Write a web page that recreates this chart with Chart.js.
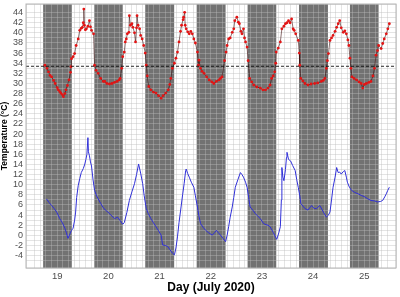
<!DOCTYPE html>
<html lang="en">
<head>
  <meta charset="UTF-8" />
  <title>Temperature July 2020</title>
  <script src="https://cdn.jsdelivr.net/npm/chart.js"></script>
  <style>
    body { margin: 0; background: #fff; }
    .wrap { width: 400px; height: 297px; }
  </style>
</head>
<body>
  <div class="wrap"><canvas id="tempChart" width="400" height="297"></canvas></div>

  <script>
    // x axis: day of July 2020 (fractional), y axis: temperature in °C
    const dayTicks = [19, 20, 21, 22, 23, 24, 25];
    const tempTicks = [-6, -4, -2, 0, 2, 4, 6, 8, 10, 12, 14, 16, 18, 20, 22, 24, 26, 28, 30, 32, 34, 36, 38, 40, 42, 44];
    const threshold = 33.4;

    // night periods (shaded)
    const nightStart = [18.725, 19.725, 20.72, 21.725, 22.72, 23.725, 24.72];
    const nightEnd   = [19.285, 20.28, 21.285, 22.29, 23.28, 24.29, 25.28];

    // red series (upper)
    const redDay = [18.76, 18.80, 18.83, 18.86, 18.89, 18.93, 18.96, 19.00, 19.02, 19.05, 19.07, 19.10, 19.12, 19.15, 19.17, 19.20, 19.23, 19.26, 19.27, 19.28, 19.31, 19.34, 19.37, 19.41, 19.44, 19.47, 19.49, 19.51, 19.52, 19.53, 19.55, 19.57, 19.60, 19.63, 19.65, 19.67, 19.71, 19.73, 19.76, 19.80, 19.85, 19.90, 19.93, 19.97,
      20.02, 20.07, 20.12, 20.17, 20.21, 20.23, 20.26, 20.28, 20.31, 20.33, 20.35, 20.37, 20.40, 20.41, 20.43, 20.46, 20.48, 20.51, 20.53, 20.55, 20.56, 20.58, 20.61, 20.63, 20.66, 20.69, 20.72, 20.74, 20.76, 20.79, 20.83, 20.88, 20.93, 20.98,
      21.03, 21.07, 21.12, 21.17, 21.20, 21.22, 21.25, 21.29, 21.32, 21.35, 21.38, 21.41, 21.43, 21.46, 21.47, 21.49, 21.50, 21.52, 21.55, 21.58, 21.61, 21.64, 21.67, 21.70, 21.74, 21.76, 21.77, 21.80, 21.83, 21.87, 21.92, 21.97,
      22.02, 22.06, 22.11, 22.16, 22.19, 22.22, 22.27, 22.30, 22.32, 22.35, 22.38, 22.42, 22.45, 22.47, 22.51, 22.54, 22.56, 22.59, 22.61, 22.64, 22.66, 22.68, 22.71, 22.73, 22.76, 22.80, 22.84, 22.90, 22.97,
      23.02, 23.07, 23.12, 23.16, 23.19, 23.22, 23.25, 23.27, 23.28, 23.32, 23.36, 23.39, 23.43, 23.46, 23.49, 23.52, 23.55, 23.58, 23.61, 23.63, 23.66, 23.71, 23.73, 23.74, 23.76, 23.80, 23.84, 23.90, 23.96,
      24.03, 24.09, 24.16, 24.20, 24.23, 24.26, 24.28, 24.30, 24.33, 24.36, 24.39, 24.43, 24.46, 24.49, 24.52, 24.55, 24.59, 24.62, 24.65, 24.68, 24.70, 24.72, 24.74, 24.76, 24.80, 24.85, 24.90, 24.94, 24.97,
      25.00, 25.04, 25.09, 25.13, 25.17, 25.20, 25.23, 25.26, 25.28, 25.33, 25.36, 25.39, 25.43, 25.46, 25.49];
    const redTemp = [33.6, 33.0, 32.3, 31.6, 31.3, 30.6, 30.0, 29.2, 28.75, 28.4, 28.1, 27.8, 27.4, 28.0, 28.75, 29.6, 30.7, 32.2, 33.3, 34.9, 35.3, 35.9, 37.5, 38.8, 40.5, 40.9, 41.1, 42.0, 44.7, 41.5, 40.6, 40.8, 41.3, 42.4, 41.2, 40.5, 39.8, 33.6, 32.6, 32.0, 31.0, 30.4, 30.4, 30.0,
      29.9, 30.0, 30.2, 30.4, 30.7, 31.0, 33.0, 35.3, 36.2, 38.2, 38.8, 39.8, 40.1, 43.4, 41.5, 41.8, 41.1, 40.0, 38.2, 41.0, 43.4, 41.5, 40.8, 39.5, 38.8, 37.5, 36.0, 33.6, 31.5, 29.4, 28.75, 28.3, 28.1, 27.6,
      27.1, 27.6, 28.1, 28.75, 29.8, 31.0, 33.0, 34.0, 35.0, 36.2, 38.2, 40.3, 41.5, 42.6, 43.1, 44.05, 41.5, 40.8, 40.2, 39.8, 40.3, 39.8, 38.8, 38.0, 36.2, 33.6, 34.6, 33.0, 32.4, 32.0, 31.3, 30.7,
      30.3, 30.0, 30.4, 30.7, 31.0, 31.3, 34.5, 36.2, 37.5, 38.8, 39.0, 40.1, 40.8, 42.4, 43.1, 42.1, 41.8, 40.3, 39.8, 40.8, 39.0, 38.2, 37.2, 34.5, 31.0, 30.3, 29.7, 29.3, 29.1,
      28.75, 28.75, 29.1, 29.7, 31.0, 31.5, 32.3, 34.0, 36.2, 37.0, 38.2, 40.8, 41.3, 41.8, 42.0, 42.4, 42.0, 42.75, 40.8, 40.5, 39.8, 38.5, 36.0, 33.6, 31.0, 30.5, 30.0, 29.7, 29.9,
      30.0, 30.1, 30.4, 30.6, 31.0, 33.0, 34.5, 35.9, 38.5, 39.0, 39.5, 40.3, 41.1, 41.8, 42.4, 41.0, 40.1, 40.4, 39.8, 38.6, 37.5, 35.0, 33.0, 31.3, 31.0, 30.7, 30.3, 30.0, 29.1,
      29.8, 30.0, 30.2, 30.4, 31.5, 33.0, 35.6, 36.5, 37.5, 36.9, 37.9, 38.8, 39.8, 40.8, 41.8];

    // blue series (lower)
    const blueDay = [18.79, 18.84, 18.89, 18.94, 18.99, 19.05, 19.10, 19.15, 19.18, 19.21, 19.25, 19.28, 19.31, 19.34, 19.36, 19.38, 19.41, 19.44, 19.47, 19.51, 19.54, 19.56, 19.58, 19.60, 19.61, 19.63, 19.65, 19.67, 19.70, 19.73, 19.77, 19.80, 19.85, 19.89, 19.94, 19.99,
      20.05, 20.12, 20.18, 20.23, 20.28, 20.31, 20.36, 20.41, 20.46, 20.51, 20.55, 20.59, 20.63, 20.67, 20.70, 20.74, 20.78, 20.83, 20.88, 20.93, 20.98,
      21.03, 21.06, 21.11, 21.16, 21.20, 21.25, 21.29, 21.32, 21.35, 21.38, 21.42, 21.45, 21.48, 21.51, 21.52, 21.55, 21.58, 21.62, 21.67, 21.70, 21.74, 21.77, 21.80, 21.85, 21.90, 21.96,
      22.03, 22.08, 22.11, 22.15, 22.19, 22.24, 22.29, 22.32, 22.35, 22.38, 22.42, 22.45, 22.48, 22.53, 22.58, 22.61, 22.64, 22.68, 22.71, 22.74, 22.77, 22.82, 22.87, 22.92, 22.97,
      23.03, 23.08, 23.12, 23.16, 23.22, 23.29, 23.33, 23.36, 23.38, 23.39, 23.41, 23.43, 23.46, 23.48, 23.49, 23.52, 23.56, 23.60, 23.65, 23.68, 23.71, 23.74, 23.76, 23.80, 23.84, 23.90, 23.97,
      24.02, 24.07, 24.13, 24.17, 24.20, 24.26, 24.30, 24.33, 24.36, 24.39, 24.43, 24.46, 24.49, 24.52, 24.55, 24.59, 24.62, 24.65, 24.67, 24.71, 24.75, 24.81, 24.88, 24.94,
      25.01, 25.07, 25.13, 25.20, 25.26, 25.32, 25.36, 25.40, 25.43, 25.46, 25.49];
    const blueTemp = [7.2, 6.5, 5.9, 5.3, 4.6, 3.3, 2.5, 1.4, 0.5, -0.6, 0.3, 1.0, 1.4, 3.0, 4.6, 7.5, 9.8, 11.2, 12.4, 13.2, 14.1, 15.0, 16.0, 19.3, 16.5, 15.7, 14.5, 13.7, 11.0, 8.9, 7.8, 7.2, 6.3, 5.6, 5.0, 4.6,
      4.0, 3.3, 3.6, 2.9, 2.2, 2.5, 4.5, 6.9, 8.6, 10.2, 12.0, 14.1, 12.3, 10.2, 7.8, 5.3, 4.3, 3.3, 2.5, 1.7, 0.9,
      0.05, -1.9, -2.0, -2.2, -2.8, -3.5, -3.85, -2.5, -0.3, 2.5, 5.6, 8.0, 10.2, 12.8, 13.1, 12.2, 11.5, 10.5, 9.5, 7.8, 5.6, 3.8, 2.35, 1.6, 1.0, 0.5,
      0.05, 0.6, 1.0, 0.5, 0.05, -0.6, -1.25, 0.0, 1.7, 3.6, 5.6, 7.5, 9.5, 11.0, 12.4, 12.0, 11.5, 10.5, 9.5, 7.5, 5.6, 5.0, 4.3, 3.8, 3.3,
      2.35, 2.1, 2.0, 1.7, 0.6, -0.8, 0.5, 1.7, 7.0, 13.4, 11.5, 10.8, 13.0, 15.4, 16.4, 15.0, 14.7, 13.8, 12.8, 11.0, 9.5, 7.8, 6.3, 5.8, 5.3, 5.0, 5.9,
      5.3, 5.3, 5.9, 5.2, 4.6, 3.6, 4.0, 4.6, 7.0, 9.5, 11.5, 13.4, 12.4, 12.5, 12.1, 12.6, 12.8, 11.5, 10.5, 9.5, 8.9, 8.5, 8.2, 7.9,
      7.6, 7.2, 6.9, 6.8, 6.6, 6.7, 6.9, 7.6, 8.2, 8.9, 9.5];

    const xMin = 18.39, xMax = 25.62;
    const yMin = -6.45, yMax = 45.7;

    const gridColor = 'rgba(188, 188, 188, 0.4)';
    const tickColor = '#4d4d4d';

    Chart.defaults.font.family = "'Liberation Sans', Arial, sans-serif";

    // shaded nights under the grid, dashed threshold and panel border on top
    const nightBands = {
      id: 'nightBands',
      beforeDraw(chart) {
        const { ctx, chartArea: a, scales: { x } } = chart;
        ctx.save();
        ctx.fillStyle = '#727272';
        nightStart.forEach((s, i) => {
          const x0 = x.getPixelForValue(s);
          const x1 = x.getPixelForValue(nightEnd[i]);
          ctx.fillRect(x0, a.top, x1 - x0, a.bottom - a.top);
        });
        ctx.restore();
      },
      afterDatasetsDraw(chart) {
        const { ctx, chartArea: a, scales: { y } } = chart;
        const py = y.getPixelForValue(threshold);
        ctx.save();
        ctx.strokeStyle = '#111';
        ctx.lineWidth = 0.9;
        ctx.setLineDash([3, 2]);
        ctx.beginPath();
        ctx.moveTo(a.left, py);
        ctx.lineTo(a.right, py);
        ctx.stroke();
        ctx.restore();
      },
      afterDraw(chart) {
        const { ctx, chartArea: a } = chart;
        ctx.save();
        ctx.strokeStyle = '#b5b5b5';
        ctx.lineWidth = 1;
        ctx.strokeRect(a.left, a.top, a.right - a.left, a.bottom - a.top);
        ctx.restore();
      }
    };

    const isOn = (v, list) => list.some(t => Math.abs(v - t) < 1e-6);

    new Chart(document.getElementById('tempChart'), {
      type: 'line',
      data: {
        datasets: [
          {
            label: 'Inside',
            data: redDay.map((d, i) => ({ x: d, y: redTemp[i] })),
            borderColor: 'rgba(50, 0, 0, 0.7)',
            borderWidth: 0.8,
            pointRadius: 1.4,
            pointBorderWidth: 0,
            pointBackgroundColor: '#e41414',
            tension: 0
          },
          {
            label: 'Outside',
            data: blueDay.map((d, i) => ({ x: d, y: blueTemp[i] })),
            borderColor: '#3030d8',
            borderWidth: 1,
            pointRadius: 0,
            tension: 0
          }
        ]
      },
      options: {
        responsive: false,
        animation: false,
        layout: { padding: { top: 2, right: 2, left: 0, bottom: 0 } },
        plugins: { legend: { display: false }, tooltip: { enabled: false } },
        scales: {
          x: {
            type: 'linear',
            min: xMin,
            max: xMax,
            afterFit(scale) { scale.height = 29; scale.paddingLeft = 0; scale.paddingRight = 0; },
            grid: { color: gridColor, lineWidth: 1, drawTicks: false },
            border: { display: false },
            ticks: {
              stepSize: 1 / 9,
              autoSkip: false,
              maxRotation: 0,
              padding: 3,
              color: tickColor,
              font: { size: 9.5 },
              callback: v => isOn(v, dayTicks) ? String(Math.round(v)) : ''
            },
            title: {
              display: true,
              text: 'Day (July 2020)',
              color: '#000',
              font: { size: 12, weight: 'bold', lineHeight: 1.2 },
              padding: { top: 0, bottom: 2 }
            }
          },
          y: {
            min: yMin,
            max: yMax,
            afterFit(scale) { scale.width = 26; scale.paddingTop = 0; scale.paddingBottom = 0; },
            grid: { color: gridColor, lineWidth: 1, drawTicks: false },
            border: { display: false },
            ticks: {
              stepSize: 1,
              autoSkip: false,
              padding: 3,
              color: tickColor,
              font: { size: 9 },
              callback: v => isOn(v, tempTicks) ? String(Math.round(v)) : ''
            },
            title: {
              display: true,
              text: 'Temperature (°C)',
              color: '#000',
              font: { size: 8.5, weight: 'bold', lineHeight: 1 },
              padding: { top: 0, bottom: 0 }
            }
          }
        }
      },
      plugins: [nightBands]
    });
  </script>
</body>
</html>
